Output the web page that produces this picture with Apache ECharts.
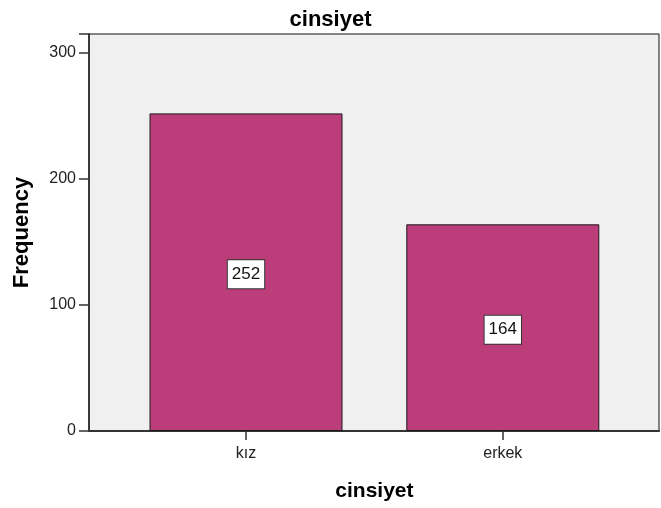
<!DOCTYPE html>
<html>
<head>
<meta charset="utf-8">
<script src="https://cdn.jsdelivr.net/npm/echarts@6/dist/echarts.min.js"></script>
<style>
  html, body { margin: 0; padding: 0; background: #fff; }
  #chart { width: 661px; height: 508px; }
</style>
</head>
<body>
<div id="chart"></div>
<script>
// Gender frequency table
const categories = ['kız', 'erkek'];
const frequencies = [252, 164];
const yTicks = [0, 100, 200, 300];
const chartTitle = 'cinsiyet';
const xAxisTitle = 'cinsiyet';
const yAxisTitle = 'Frequency';

const FONT = 'Arial, "Liberation Sans", sans-serif';
const Y_MAX = 315;

const chart = echarts.init(document.getElementById('chart'), null, { renderer: 'canvas' });

chart.setOption({
  animation: false,
  backgroundColor: '#ffffff',
  title: {
    text: chartTitle,
    left: 'center',
    top: 4,
    textStyle: { fontFamily: FONT, fontSize: 22, fontWeight: 'bold', color: '#000' }
  },
  grid: [
    // framed plot panel
    { left: 89, right: 2, top: 34, bottom: 77, show: true,
      backgroundColor: '#f0f0f0', borderColor: '#111', borderWidth: 1 },
    // bar band, inset inside the panel
    { left: 117.6, right: 29.8, top: 34, bottom: 77 }
  ],
  xAxis: [
    { gridIndex: 0, type: 'category', data: categories,
      axisLine: { show: true, lineStyle: { color: '#333', width: 2 } },
      axisTick: { show: false }, axisLabel: { show: false }, splitLine: { show: false } },
    { gridIndex: 1, type: 'category', data: categories,
      name: xAxisTitle, nameLocation: 'middle', nameGap: 50,
      nameTextStyle: { fontFamily: FONT, fontSize: 21, fontWeight: 'bold', color: '#000' },
      axisLine: { show: false },
      axisTick: { show: true, alignWithLabel: true, length: 9, lineStyle: { color: '#333', width: 1.5 } },
      axisLabel: { margin: 15, fontFamily: FONT, fontSize: 16, color: '#222' } }
  ],
  yAxis: [
    { gridIndex: 0, type: 'value', min: 0, max: Y_MAX, interval: 100,
      name: yAxisTitle, nameLocation: 'middle', nameGap: 56, nameRotate: 90,
      nameTextStyle: { fontFamily: FONT, fontSize: 22, fontWeight: 'bold', color: '#000' },
      axisLine: { show: true, lineStyle: { color: '#222', width: 1.5 } },
      axisTick: { show: true, length: 10, lineStyle: { color: '#333', width: 1.5 } },
      axisLabel: { margin: 13, fontFamily: FONT, fontSize: 16, color: '#222',
        formatter: v => (yTicks.includes(v) ? String(v) : '') },
      splitLine: { show: false } },
    { gridIndex: 1, type: 'value', min: 0, max: Y_MAX, interval: 100, show: false }
  ],
  series: [{
    type: 'bar',
    xAxisIndex: 1,
    yAxisIndex: 1,
    data: frequencies,
    barWidth: 193,
    itemStyle: { color: '#bb3e7b', borderColor: '#1a1a1a', borderWidth: 1 },
    label: {
      show: true,
      position: 'inside',
      offset: [0, 2],
      formatter: p => String(p.value),
      fontFamily: FONT,
      fontSize: 17,
      color: '#111',
      backgroundColor: '#ffffff',
      borderColor: '#333',
      borderWidth: 1,
      padding: [6, 4, 5, 4]
    }
  }]
});
</script>
</body>
</html>
